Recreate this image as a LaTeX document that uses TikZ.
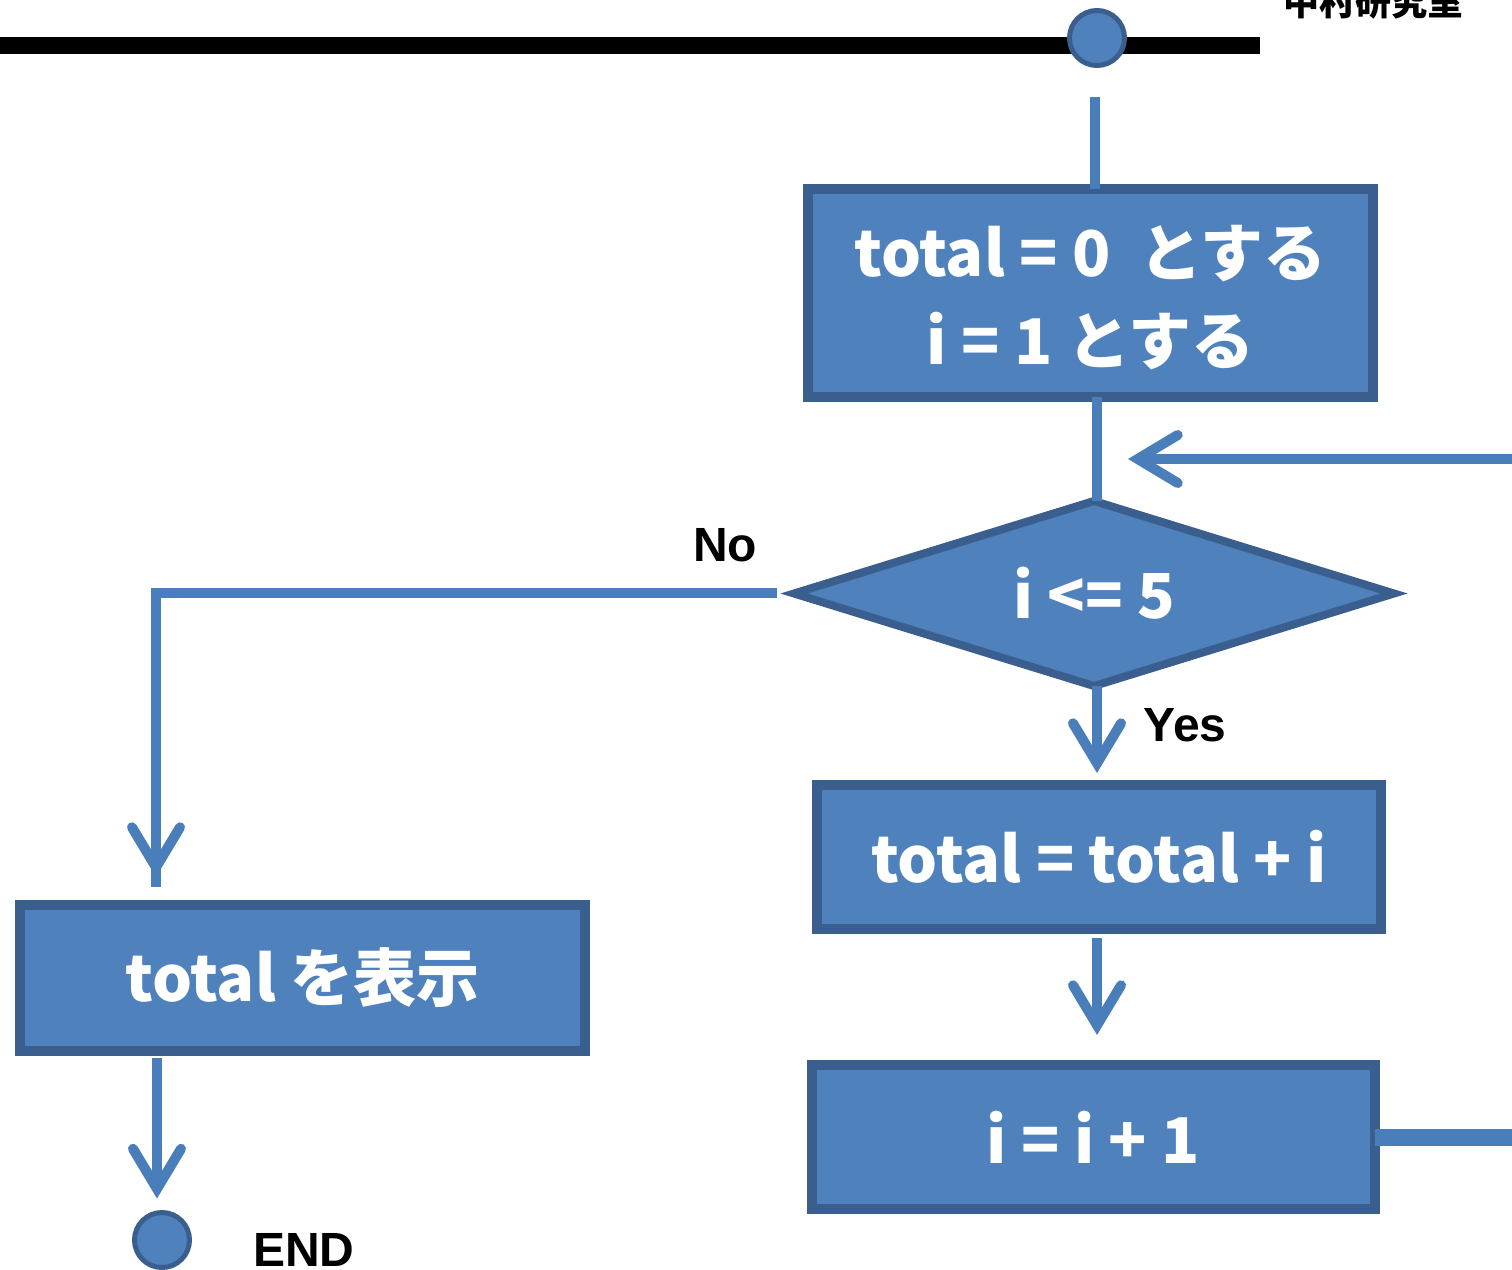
\documentclass[tikz,border=0pt]{standalone}
\usepackage{fontspec}
\setmainfont{Liberation Sans}
\newfontfamily\jp{Noto Sans CJK JP}
\usetikzlibrary{shapes.geometric,arrows.meta,calc}
\definecolor{fillb}{HTML}{4F81BD}
\definecolor{edgeb}{HTML}{3A5F8F}
\definecolor{lineb}{HTML}{4A7EBB}
\tikzset{
  procbox/.style={draw=edgeb,fill=fillb,line width=10pt,inner sep=0pt,outer sep=0pt,
    text=white,font=\jp\bfseries\fontsize{63}{88}\selectfont,align=center},
  decbox/.style={diamond,aspect=3.15,draw=edgeb,fill=fillb,line width=8pt,inner sep=0pt,outer sep=0pt,
    text=white,font=\jp\bfseries\fontsize{62}{80}\selectfont,minimum width=600pt,minimum height=185pt},
  termc/.style={circle,draw=edgeb,fill=fillb,line width=5pt,minimum size=55pt,inner sep=0pt,outer sep=0pt},
  conn/.style={draw=lineb,line width=10pt},
  arr/.style={conn,-{Straight Barb[length=40pt,width=48pt,line cap=round]}},
  lbl/.style={font=\bfseries\fontsize{48}{56}\selectfont,text=black,inner sep=0pt}
}
\begin{document}
\begin{tikzpicture}[x=1pt,y=-1pt]
\useasboundingbox (0,0) rectangle (1512,1269);
\fill[white] (0,0) rectangle (1512,1269);
% header bar
\fill[black] (0,37) rectangle (1260,54);
\node[font=\jp\bfseries\fontsize{36}{40}\selectfont,inner sep=0pt] (lab) at (1373,2) {中村研究室};
\node[termc] (start) at (1097,38) {};
% nodes
\node[procbox,minimum width=565pt,minimum height=208pt] (b1) at (1090.5,293) {};
\node[procbox,draw=none,fill=none] (b1t) at (1090.5,298) {total = 0\ \ とする\\i = 1 とする};
\node[decbox] (d) at (1094,593.5) {i <= 5};
\node[procbox,minimum width=564pt,minimum height=144pt] (b2) at (1099,857) {total = total + i};
\node[procbox,minimum width=563pt,minimum height=144pt] (b3) at (1093.5,1137) {i = i + 1};
\node[procbox,minimum width=565pt,minimum height=146pt] (b4) at (302.5,978) {total を表示};
\node[termc] (endc) at (162,1240) {};
\node[lbl,anchor=west] (endl) at (253,1250) {END};
\node[lbl] (no) at (725,545) {No};
\node[lbl] (yes) at (1185,725) {Yes};
% coordinates
\coordinate (s1) at (1095,97);
\coordinate (loopR) at (1512,459);
\coordinate (loopE) at (1128,459);
\coordinate (noS) at (777,593);
\coordinate (noC) at (156,593);
\coordinate (noE) at (156,877);
\coordinate (outR) at (1512,1137);
% connectors
\draw[conn] (s1) -- (b1.north -| s1);
\draw[conn] ($(b1.south)+(6.5,0)$) -- ($(d.north)+(3,0)$);
\draw[arr] (loopR) -- (loopE);
\draw[conn,line width=17pt] (b3.east) -- (outR);
\draw[conn] (noS) -- (noC) -- ([yshift=-10pt]noE);
\draw[arr] (noC) -- (noE);
\draw[arr,shorten >=12pt] ($(d.south)+(3,0)$) -- (b2.north -| 1097,0);
\draw[arr,shorten <=9pt,shorten >=30pt] (b2.south -| 1097,0) -- (b3.north -| 1097,0);
\draw[arr,shorten <=7pt,shorten >=14pt] (b4.south -| 157,0) -- (endc.north -| 157,0);
\end{tikzpicture}
\end{document}
